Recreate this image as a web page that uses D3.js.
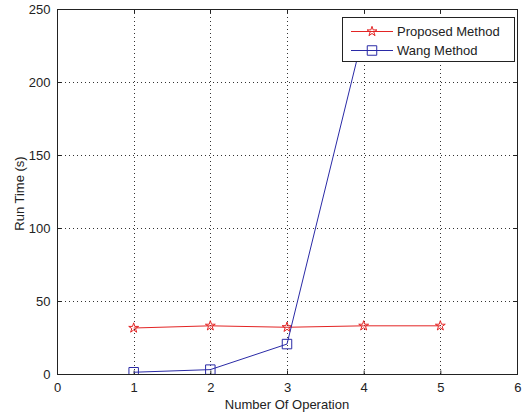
<!DOCTYPE html>
<html>
<head>
<meta charset="utf-8">
<script src="https://cdn.jsdelivr.net/npm/d3@7"></script>
<style>
  html, body { margin: 0; padding: 0; background: #fff; }
  svg { display: block; }
  text { font-family: "Liberation Sans", Arial, Helvetica, sans-serif; fill: #222; }
</style>
</head>
<body>
<svg id="chart" width="522" height="414"></svg>
<script>
// Run time versus number of operations for two methods
const operations = [1, 2, 3, 4, 5];
const proposedTimes = [31.5, 33, 32, 33, 33];
const wangOps = [1, 2, 3, 4];
const wangTimes = [1.2, 3, 20.5, 234];
const xTicks = [0, 1, 2, 3, 4, 5, 6];
const yTicks = [0, 50, 100, 150, 200, 250];
const seriesNames = ["Proposed Method", "Wang Method"];

const svg = d3.select("#chart");
const plot = { left: 57, right: 517, top: 9, bottom: 374 };

const x = d3.scaleLinear().domain([0, 6]).range([plot.left, plot.right]);
const y = d3.scaleLinear().domain([0, 250]).range([plot.bottom, plot.top]);

const red = "#e32424";
const blue = "#2a2aa6";
const fs = 13;

// dotted grid
const grid = svg.append("g").attr("stroke", "#333").attr("stroke-width", 1)
  .attr("stroke-dasharray", "1,3");
grid.selectAll(".gx").data(xTicks.slice(1, -1)).join("line")
  .attr("x1", d => Math.round(x(d)) + 0.5).attr("x2", d => Math.round(x(d)) + 0.5)
  .attr("y1", plot.top).attr("y2", plot.bottom);
grid.selectAll(".gy").data(yTicks.slice(1, -1)).join("line")
  .attr("y1", d => Math.round(y(d)) + 0.5).attr("y2", d => Math.round(y(d)) + 0.5)
  .attr("x1", plot.left).attr("x2", plot.right);

// axes with inward ticks
const xAxis = svg.append("g").attr("transform", `translate(0,${plot.bottom + 0.5})`)
  .call(d3.axisBottom(x).tickValues(xTicks).tickFormat(d3.format("d"))
    .tickSize(-4).tickPadding(8).tickSizeOuter(0));
const yAxis = svg.append("g").attr("transform", `translate(${plot.left + 0.5},0)`)
  .call(d3.axisLeft(y).tickValues(yTicks).tickFormat(d3.format("d"))
    .tickSize(-4).tickPadding(7).tickSizeOuter(0));
[xAxis, yAxis].forEach(g => {
  g.select(".domain").remove();
  g.selectAll("line").attr("stroke", "#222");
  g.selectAll("text").attr("font-size", fs).attr("fill", "#333")
    .attr("font-family", "'Liberation Sans', Arial, sans-serif");
});
// keep the last x label inside the page
xAxis.selectAll(".tick").filter(d => d === 6).select("text").attr("text-anchor", "end").attr("dx", "4");

// top and right inward ticks
const tt = svg.append("g").attr("stroke", "#222");
tt.selectAll(".tx").data(xTicks).join("line")
  .attr("x1", d => Math.round(x(d)) + 0.5).attr("x2", d => Math.round(x(d)) + 0.5)
  .attr("y1", plot.top).attr("y2", plot.top + 4);
tt.selectAll(".ty").data(yTicks).join("line")
  .attr("y1", d => Math.round(y(d)) + 0.5).attr("y2", d => Math.round(y(d)) + 0.5)
  .attr("x1", plot.right).attr("x2", plot.right - 4);

// axes box
svg.append("rect")
  .attr("x", plot.left + 0.5).attr("y", plot.top + 0.5)
  .attr("width", plot.right - plot.left).attr("height", plot.bottom - plot.top)
  .attr("fill", "none").attr("stroke", "#222").attr("stroke-width", 1);

// axis titles
svg.append("text").attr("x", x(3)).attr("y", 409).attr("text-anchor", "middle")
  .attr("font-size", fs).text("Number Of Operation");
svg.append("text").attr("transform", `translate(24,${(plot.top + plot.bottom) / 2 + 2}) rotate(-90)`)
  .attr("text-anchor", "middle").attr("font-size", fs).text("Run Time (s)");

svg.append("clipPath").attr("id", "clip").append("rect")
  .attr("x", plot.left).attr("y", plot.top)
  .attr("width", plot.right - plot.left).attr("height", plot.bottom - plot.top);

const star = d3.symbol().type(d3.symbolStar).size(30);
const square = d3.symbol().type(d3.symbolSquare).size(90);

const line = d3.line().x(d => x(d[0])).y(d => y(d[1]));
const proposed = operations.map((o, i) => [o, proposedTimes[i]]);
const wang = wangOps.map((o, i) => [o, wangTimes[i]]);

const data = svg.append("g").attr("clip-path", "url(#clip)");
data.append("path").datum(proposed).attr("d", line)
  .attr("fill", "none").attr("stroke", red).attr("stroke-width", 1);
data.selectAll(".ps").data(proposed).join("path")
  .attr("transform", d => `translate(${x(d[0])},${y(d[1])})`)
  .attr("d", star).attr("fill", "none").attr("stroke", red).attr("stroke-width", 1);

data.append("path").datum(wang).attr("d", line)
  .attr("fill", "none").attr("stroke", blue).attr("stroke-width", 1);
data.selectAll(".ws").data(wang).join("path")
  .attr("transform", d => `translate(${x(d[0])},${y(d[1])})`)
  .attr("d", square).attr("fill", "none").attr("stroke", blue).attr("stroke-width", 1);

// legend
const lg = svg.append("g");
lg.append("rect").attr("x", 342.5).attr("y", 17.5).attr("width", 172).attr("height", 44)
  .attr("fill", "#fff").attr("stroke", "#222");
const rows = [
  { name: seriesNames[0], color: red, sym: star, y: 31 },
  { name: seriesNames[1], color: blue, sym: square, y: 50 }
];
rows.forEach(r => {
  lg.append("line").attr("x1", 351).attr("x2", 393).attr("y1", r.y + 0.5).attr("y2", r.y + 0.5)
    .attr("stroke", r.color);
  lg.append("path").attr("transform", `translate(372,${r.y + 0.5})`).attr("d", r.sym)
    .attr("fill", "none").attr("stroke", r.color);
  lg.append("text").attr("x", 397).attr("y", r.y + 5).attr("font-size", fs).text(r.name);
});
</script>
</body>
</html>
